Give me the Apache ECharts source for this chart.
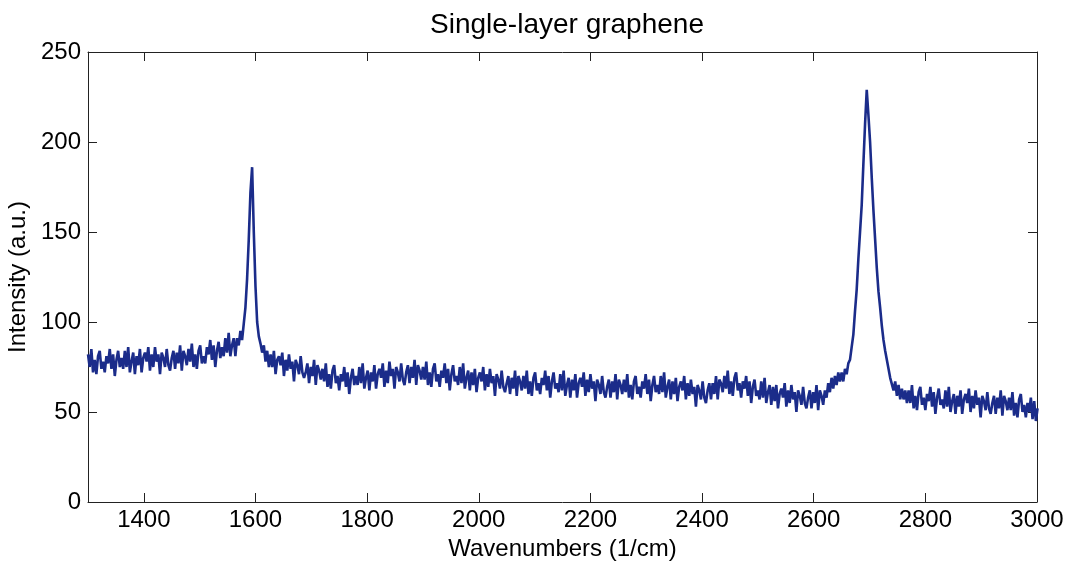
<!DOCTYPE html>
<html>
<head>
<meta charset="utf-8">
<script src="https://cdn.jsdelivr.net/npm/echarts@6/dist/echarts.min.js"></script>
<style>
html,body{margin:0;padding:0;background:#fff;}
#chart{width:1079px;height:563px;}
</style>
</head>
<body>
<div id="chart"></div>
<script>
// Raman spectrum sampled every 3 cm^-1 starting at 1300 cm^-1
var startWavenumber = 1300;
var stepWavenumber = 3;
var intensity = [
  // 1300
  82,75,85,72,79,71,81,84,74,78,
  72,81,77,85,74,82,70,79,84,75,
  80,74,84,75,86,72,78,83,71,81,
  76,85,72,80,83,78,86,73,82,75,
  // 1420
  86,78,82,71,83,80,75,85,76,73,
  80,84,74,83,77,87,73,84,81,76,
  85,78,88,75,82,74,84,87,77,81,
  77,86,82,90,79,87,75,84,89,80,
  // 1540
  86,81,91,83,94,81,87,91,81,91,
  // 1570 (G peak)
  87,95,90,99,108,124,146,172,186,150,
  // 1600
  120,100,92,88,83,87,78,84,75,82,
  75,84,71,79,81,76,83,70,79,73,
  82,74,78,67,79,76,71,81,72,69,
  72,77,66,75,70,79,65,76,73,68,
  // 1720
  74,67,77,64,71,63,73,76,66,70,
  62,71,67,75,64,72,60,69,74,65,
  70,65,75,66,77,63,69,73,62,72,
  67,76,63,71,74,69,77,64,73,66,
  // 1840
  78,70,74,63,75,72,67,77,68,65,
  72,76,66,75,69,79,65,76,73,68,
  75,68,78,65,72,64,74,77,67,71,
  64,73,69,77,66,74,62,71,76,67,
  // 1960
  70,65,75,66,77,63,69,73,62,72,
  65,74,61,69,72,67,75,62,71,64,
  74,66,70,59,71,68,63,73,64,61,
  66,70,60,69,63,73,59,70,67,62,
  // 2080
  70,63,73,60,67,59,69,72,62,66,
  60,69,65,73,62,70,58,67,72,63,
  66,61,71,62,73,59,65,69,58,68,
  62,71,58,66,69,64,72,59,68,61,
  // 2200
  71,63,67,56,68,65,60,70,61,58,
  64,68,58,67,61,71,57,68,65,60,
  68,61,71,58,65,57,67,70,60,64,
  58,67,63,71,60,68,56,65,70,61,
  // 2320
  65,60,70,61,72,58,64,68,57,67,
  60,69,56,64,67,62,70,57,66,59,
  68,60,64,53,65,62,57,67,58,55,
  62,66,57,66,60,70,57,68,66,61,
  // 2440
  70,63,73,60,67,59,69,72,62,66,
  58,67,63,70,59,67,55,64,68,59,
  62,57,67,58,69,55,61,65,54,64,
  56,65,52,60,63,58,66,53,62,55,
  // 2560
  65,57,61,50,62,59,54,64,55,52,
  58,62,52,61,55,65,51,62,59,54,
  62,58,66,61,69,63,70,65,72,67,
  // 2650 (2D peak)
  72,67,74,71,77,79,86,93,106,118,
  135,150,165,188,210,229,215,200,180,162,
  146,130,117,108,98,90,84,79,74,69,
  69,62,67,59,65,57,63,57,62,55,
  // 2770
  62,55,65,52,59,51,61,64,54,58,
  51,60,56,64,53,61,49,58,63,54,
  57,52,62,53,64,50,56,60,49,59,
  53,62,49,57,60,55,63,50,59,52,
  // 2890
  62,54,58,47,59,56,51,61,52,49,
  55,59,49,58,52,62,48,59,56,51,
  58,51,61,48,55,47,57,60,50,54,
  // 2980
  47,55,50,58,46,56,45,52
];
var xTickValues = [1400,1600,1800,2000,2200,2400,2600,2800,3000];
var yTickValues = [0,50,100,150,200,250];

var seriesData = intensity.map(function (v, i) {
  return [startWavenumber + i * stepWavenumber, v];
});

var FONT = 'Liberation Sans, Arial, Helvetica, sans-serif';
var axisColor = '#222222';
var plain = function (v) { return String(v); };

var chart = echarts.init(document.getElementById('chart'), null, {renderer: 'canvas'});
var commonX = {
  type: 'value', min: 1300, max: 3000,
  axisLine: {show: true, onZero: false, lineStyle: {color: axisColor, width: 1}},
  axisTick: {show: true, inside: true, length: 9, customValues: xTickValues, lineStyle: {color: axisColor}},
  splitLine: {show: false}
};
var commonY = {
  type: 'value', min: 0, max: 250, interval: 50,
  axisLine: {show: true, onZero: false, lineStyle: {color: axisColor, width: 1}},
  axisTick: {show: true, inside: true, length: 9, customValues: yTickValues, lineStyle: {color: axisColor}},
  splitLine: {show: false}
};
chart.setOption({
  animation: false,
  backgroundColor: '#ffffff',
  title: {
    text: 'Single-layer graphene',
    left: 562, top: 6, textAlign: 'center',
    textStyle: {fontFamily: FONT, fontSize: 28, fontWeight: 'normal', color: '#000'}
  },
  grid: {left: 88, right: 42, top: 52, bottom: 61, containLabel: false, outerBoundsMode: 'none'},
  xAxis: [
    Object.assign({}, commonX, {
      position: 'bottom',
      name: 'Wavenumbers (1/cm)', nameLocation: 'middle', nameGap: 27,
      nameTextStyle: {fontFamily: FONT, fontSize: 24, color: '#000'},
      axisLabel: {show: true, customValues: xTickValues, formatter: plain, margin: 6, fontFamily: FONT, fontSize: 24, color: '#000'}
    }),
    Object.assign({}, commonX, {
      position: 'top',
      axisLabel: {show: false}
    })
  ],
  yAxis: [
    Object.assign({}, commonY, {
      position: 'left',
      name: 'Intensity (a.u.)', nameLocation: 'middle', nameGap: 44,
      nameTextStyle: {fontFamily: FONT, fontSize: 24, color: '#000'},
      axisLabel: {show: true, customValues: yTickValues, formatter: plain, margin: 7, fontFamily: FONT, fontSize: 24, color: '#000'}
    }),
    Object.assign({}, commonY, {
      position: 'right',
      axisLabel: {show: false}
    })
  ],
  series: [{
    type: 'line',
    xAxisIndex: 0, yAxisIndex: 0,
    data: seriesData,
    showSymbol: false,
    symbol: 'none',
    clip: true,
    lineStyle: {color: '#1b2c8a', width: 2.6},
    itemStyle: {color: '#1b2c8a'}
  }]
});
</script>
</body>
</html>
